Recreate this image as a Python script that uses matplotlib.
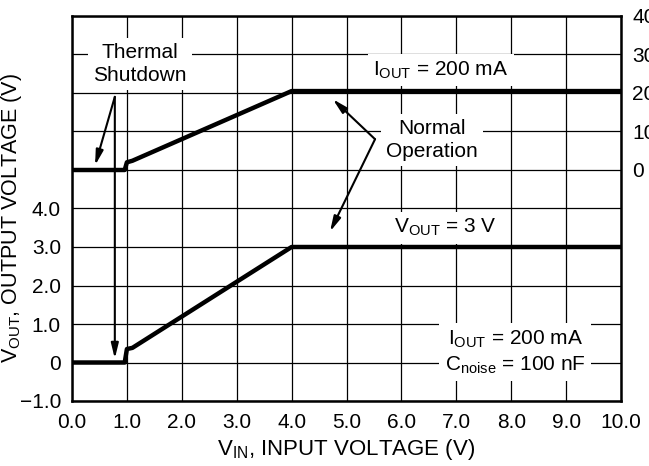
import numpy as np
import matplotlib.pyplot as plt

plt.rcParams['font.family'] = ['Liberation Sans', 'DejaVu Sans']
plt.rcParams['mathtext.fontset'] = 'custom'
plt.rcParams['mathtext.rm'] = 'Liberation Sans'
plt.rcParams['mathtext.default'] = 'regular'

# traces (left axis units, V)
vin_out = [0.0, 0.96, 1.0, 1.1, 4.0, 10.0]
vout = [0.0, 0.0, 0.35, 0.38, 3.0, 3.0]

# upper trace, drawn in the upper half of the grid (offset by 5 divisions)
vin_i = [0.0, 0.96, 1.0, 1.1, 4.0, 10.0]
iout_div = [5.0, 5.0, 5.2, 5.24, 7.05, 7.05]

xticks = np.arange(0, 11, 1)
xlabels = ['%.1f' % v for v in xticks]
yticks_left = [-1, 0, 1, 2, 3, 4]
ylabels_left = ['\u22121.0', '0', '1.0', '2.0', '3.0', '4.0']
yticks_right = [5, 6, 7, 8, 9]
ylabels_right = ['0', '10', '20', '30', '40']

fig = plt.figure(figsize=(6.49, 4.66), dpi=100)
ax = fig.add_axes([72/649, 1 - 401/466, (621 - 72)/649, (401 - 16)/466])

ax.plot(vin_out, vout, color='black', lw=3.2, solid_capstyle='butt')
ax.plot(vin_i, iout_div, color='black', lw=3.2, solid_capstyle='butt')

ax.set_xlim(0, 10)
ax.set_ylim(-1, 9)
ax.set_xticks(xticks)
ax.set_xticklabels(xlabels)
ax.set_yticks(range(-1, 10))
ax.set_yticklabels(ylabels_left + [''] * 5)
ax.grid(True, color='black', lw=0.9)
ax.tick_params(length=0, labelsize=15)
ax.tick_params(axis='x', pad=9)
ax.tick_params(axis='y', pad=8)
for s in ax.spines.values():
    s.set_linewidth(1.8)

ax2 = ax.twinx()
ax2.set_ylim(-1, 9)
ax2.set_yticks(yticks_right)
ax2.set_yticklabels(ylabels_right)
ax2.tick_params(length=0, labelsize=15, pad=8)
for s in ax2.spines.values():
    s.set_visible(False)

ax.set_xlabel(r'V$_{IN}$, INPUT VOLTAGE (V)', fontsize=16, labelpad=3)
ax.set_ylabel(r'V$_{OUT}$, OUTPUT VOLTAGE (V)', fontsize=15.5)
ax.yaxis.set_label_coords(-0.087, 0.475)

box = dict(boxstyle='square,pad=0.25', fc='white', ec='none')
arw = dict(arrowstyle='-|>,head_length=0.9,head_width=0.22', color='black', lw=1.5,
           shrinkA=0, shrinkB=0)

ax.text(1.24, 7.75, 'Thermal\nShutdown', ha='center', va='center', fontsize=15,
        linespacing=1.25, bbox=box)
ax.annotate('', xy=(0.42, 5.12), xytext=(0.78, 6.9), arrowprops=arw)
ax.annotate('', xy=(0.78, 0.1), xytext=(0.78, 6.9), arrowprops=arw)

ax.text(6.72, 7.6, r'I$_{OUT}$ = 200 mA', ha='center', va='center', fontsize=15, bbox=box)
ax.text(6.56, 5.77, 'Normal\nOperation', ha='center', va='center', fontsize=15,
        linespacing=1.25, bbox=box)
ax.annotate('', xy=(4.75, 6.84), xytext=(5.52, 5.8), arrowprops=arw)
ax.annotate('', xy=(4.7, 3.4), xytext=(5.52, 5.8), arrowprops=arw)

ax.text(6.8, 3.5, r'V$_{OUT}$ = 3 V', ha='center', va='center', fontsize=15, bbox=box)
ax.text(8.07, 0.27, 'I$_{OUT}$ = 200 mA\nC$_{noise}$ = 100 nF', ha='center', va='center',
        fontsize=15, linespacing=1.3, bbox=box)

fig.savefig('out.png', dpi=100)
